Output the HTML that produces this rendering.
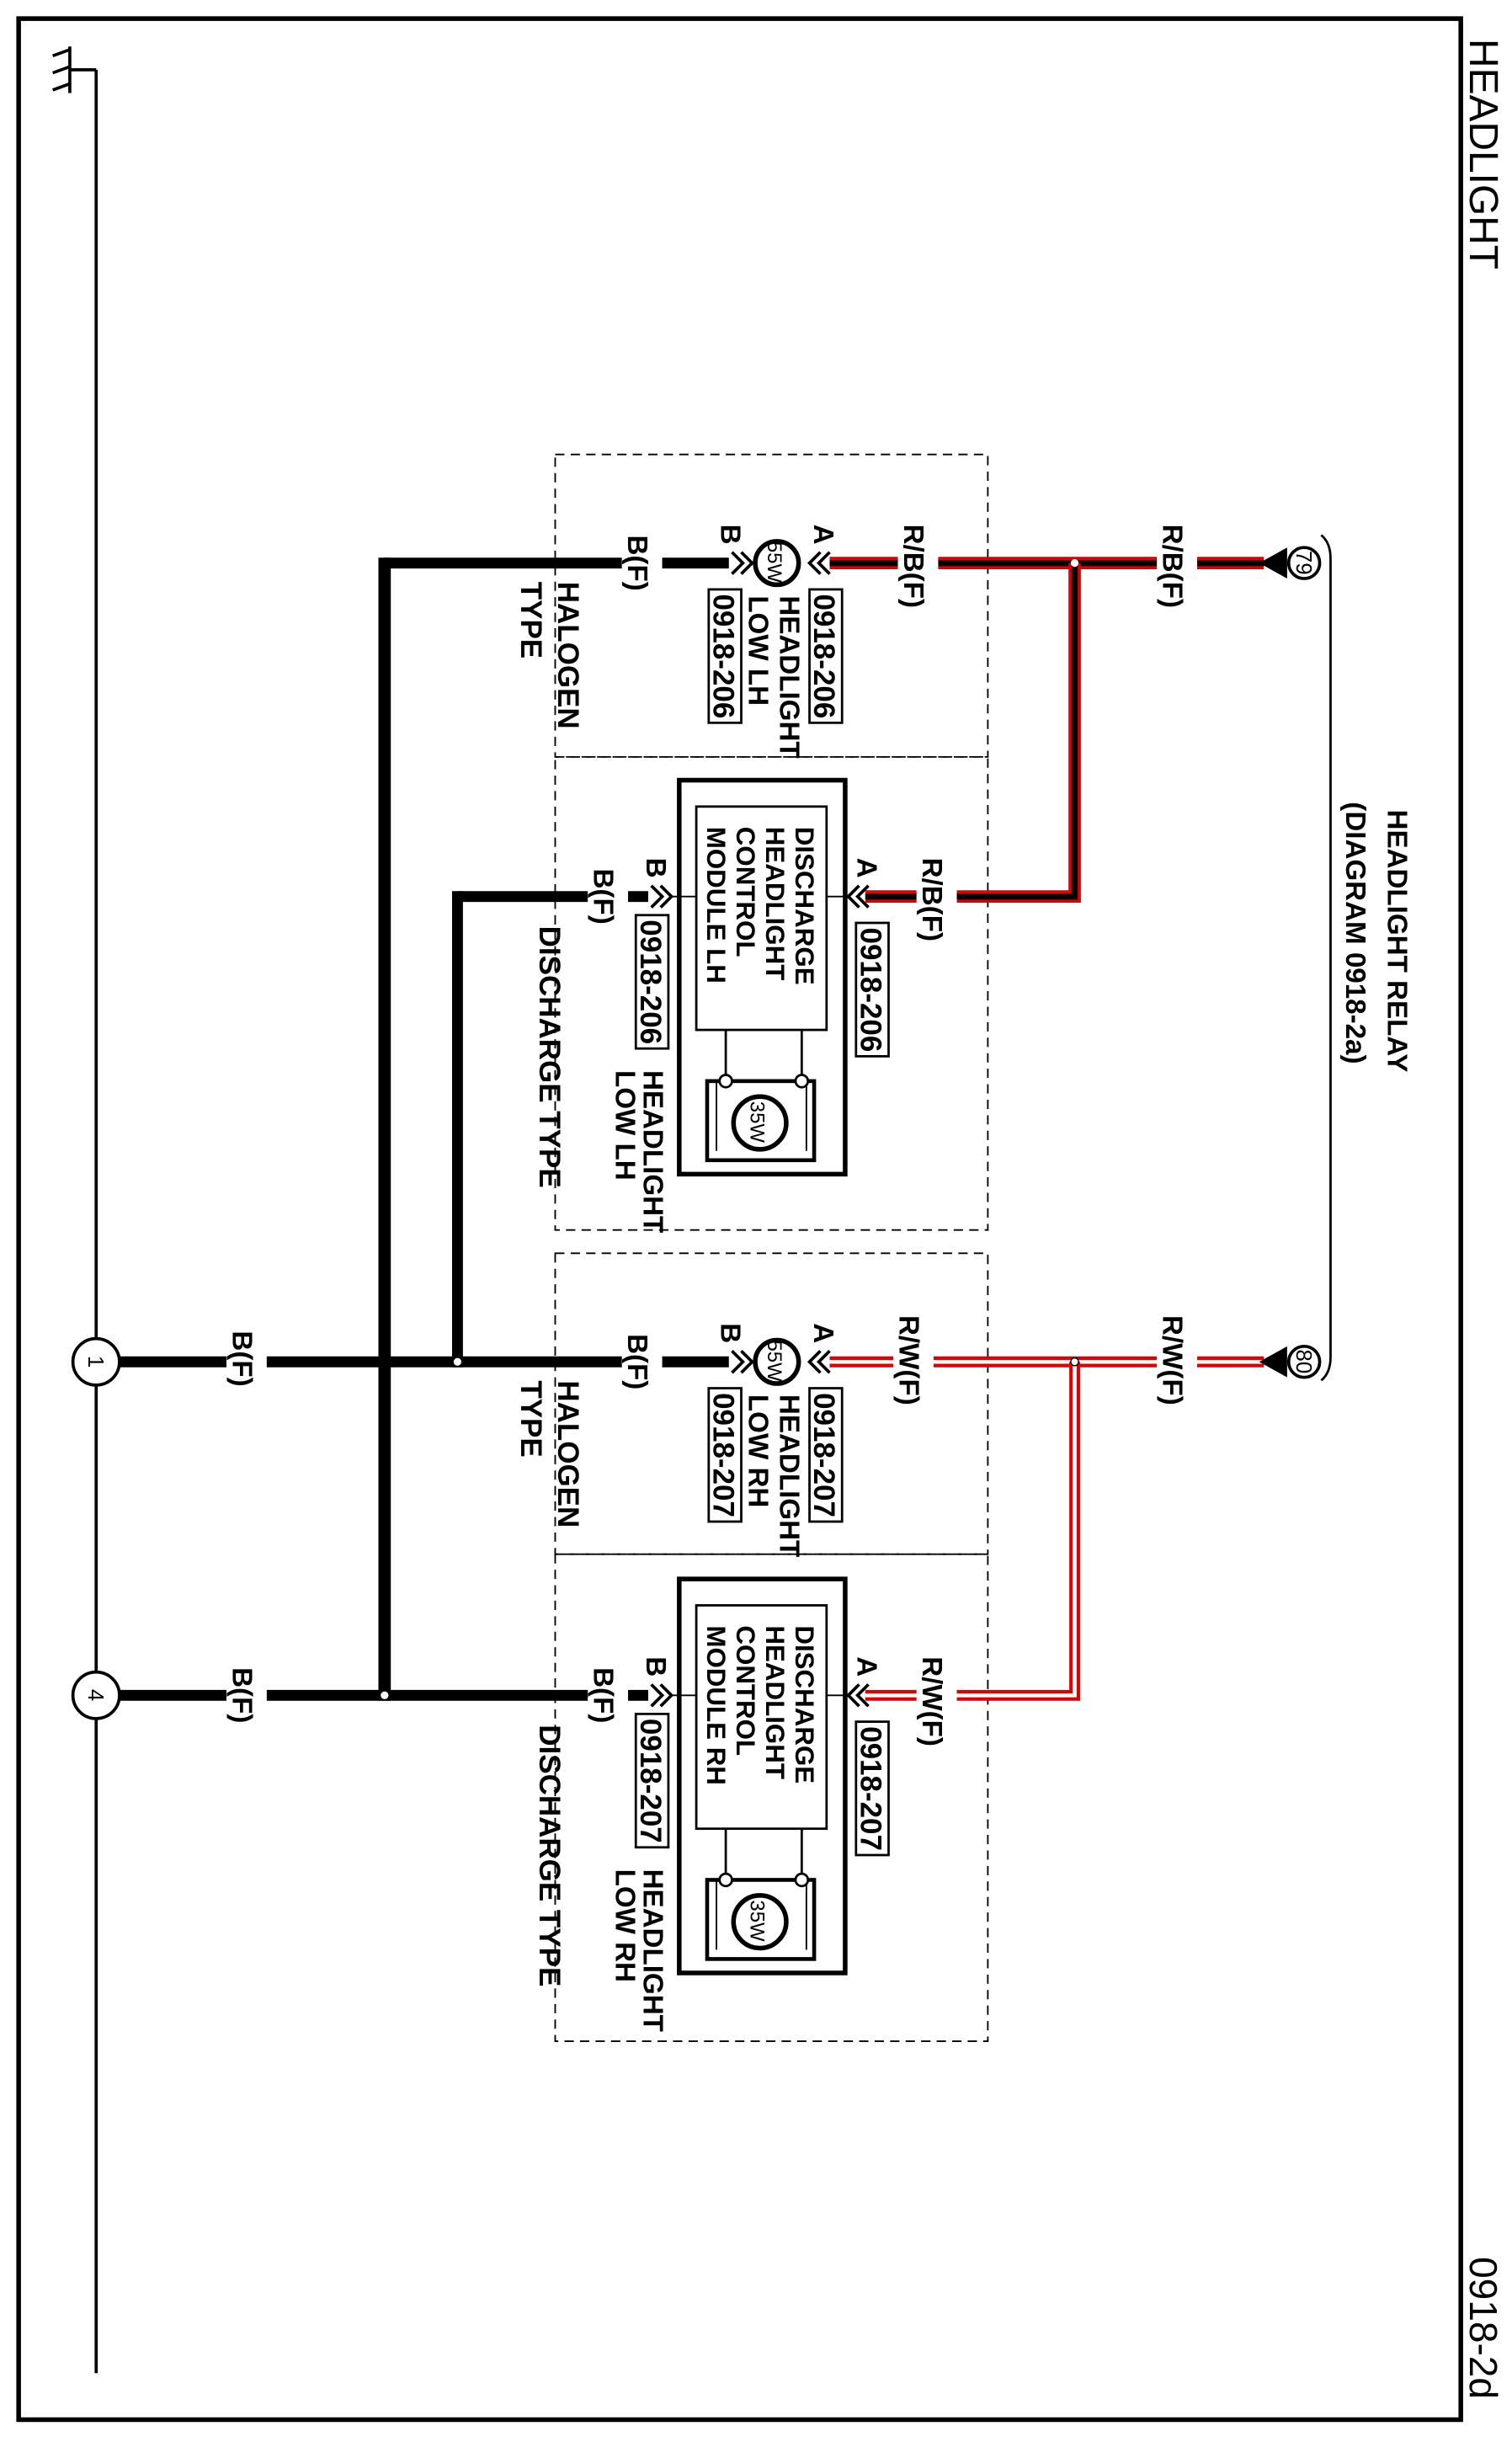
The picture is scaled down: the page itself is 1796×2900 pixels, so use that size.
<!DOCTYPE html>
<html><head><meta charset="utf-8"><style>
html,body{margin:0;padding:0;background:#fff;}
svg{display:block;}
text{font-family:"Liberation Sans",sans-serif;fill:#000;}
.b{font-weight:bold;}
</style></head><body>
<svg width="1796" height="2900" viewBox="0 0 975 1574.4" xmlns="http://www.w3.org/2000/svg">
<rect x="0" y="0" width="975" height="1574.4" fill="#fff"/>
<rect x="12" y="12" width="930" height="1548" fill="none" stroke="#000" stroke-width="3"/>
<text transform="translate(948,25) rotate(90)" font-size="26">HEADLIGHT</text>
<text transform="translate(948,1455) rotate(90)" font-size="25">0918-2d</text>
<!-- ground -->
<line x1="62" y1="45" x2="62" y2="1530" stroke="#000" stroke-width="2"/>
<line x1="45" y1="45" x2="62" y2="45" stroke="#000" stroke-width="2"/>
<line x1="45" y1="30" x2="45" y2="60" stroke="#000" stroke-width="2"/>
<line x1="45" y1="32" x2="34" y2="36" stroke="#000" stroke-width="2"/>
<line x1="45" y1="43" x2="34" y2="47" stroke="#000" stroke-width="2"/>
<line x1="45" y1="54" x2="34" y2="58" stroke="#000" stroke-width="2"/>
<!-- relay label + bracket -->
<text class="b" transform="translate(895,522) rotate(90)" font-size="18">HEADLIGHT RELAY</text>
<text class="b" transform="translate(868,517) rotate(90)" font-size="18">(DIAGRAM 0918-2a)</text>
<path d="M852 345 Q858 350 858 360 V875 Q858 885 852 890" fill="none" stroke="#000" stroke-width="1.5"/>
<!-- dashed boxes -->
<g fill="none" stroke="#000" stroke-width="1" stroke-dasharray="6,4">
<rect x="358" y="293" width="279" height="195"/><rect x="358" y="488" width="279" height="305"/>
<rect x="358" y="808" width="279" height="194"/><rect x="358" y="1002" width="279" height="314"/>
</g>
<!-- black ground wires -->
<g stroke="#000" fill="none">
<line x1="248" y1="363" x2="470" y2="363" stroke-width="7"/>
<line x1="295" y1="578" x2="418" y2="578" stroke-width="7"/>
<line x1="76" y1="878" x2="470" y2="878" stroke-width="7"/>
<line x1="76" y1="1093" x2="418" y2="1093" stroke-width="7"/>
<line x1="248" y1="359.5" x2="248" y2="1096.5" stroke-width="8"/>
<line x1="295" y1="574.5" x2="295" y2="881.5" stroke-width="7"/>
</g>
<circle cx="295" cy="878" r="2.5" fill="#fff"/><circle cx="248" cy="1093" r="2.5" fill="#fff"/>
<!-- R/B wires -->
<g fill="none" stroke-linejoin="miter">
<line x1="535" y1="363" x2="815" y2="363" stroke="#e00000" stroke-width="8"/>
<line x1="535" y1="363" x2="815" y2="363" stroke="#000" stroke-width="4"/>
<path d="M558 578 H693 V363" stroke="#e00000" stroke-width="8"/>
<path d="M558 578 H693 V363" stroke="#000" stroke-width="4"/>
<line x1="535" y1="878" x2="815" y2="878" stroke="#e00000" stroke-width="7"/>
<line x1="535" y1="878" x2="815" y2="878" stroke="#fff" stroke-width="2.5"/>
<path d="M558 1093 H693 V878" stroke="#e00000" stroke-width="7"/>
<path d="M558 1093 H693 V878" stroke="#fff" stroke-width="2.5"/>
</g>
<circle cx="693" cy="363" r="2.5" fill="#fff"/><circle cx="693" cy="878" r="2.5" fill="#fff" stroke="#000" stroke-width="0.8"/>
<!-- label gaps -->
<g fill="#fff">
<rect x="579" y="352" width="26" height="22"/><rect x="746" y="352" width="26" height="22"/>
<rect x="591" y="567" width="26" height="22"/>
<rect x="401" y="352" width="26" height="22"/><rect x="379" y="567" width="26" height="22"/>
<rect x="576" y="867" width="26" height="22"/><rect x="746" y="867" width="26" height="22"/>
<rect x="591" y="1082" width="26" height="22"/>
<rect x="401" y="867" width="26" height="22"/><rect x="379" y="1082" width="26" height="22"/>
<rect x="146" y="867" width="26" height="22"/><rect x="146" y="1082" width="26" height="22"/>
</g>
<!-- wire labels -->
<g class="b" font-size="18">
<text class="b" transform="translate(583,338) rotate(90)">R/B(F)</text>
<text class="b" transform="translate(750,338) rotate(90)">R/B(F)</text>
<text class="b" transform="translate(595,553) rotate(90)">R/B(F)</text>
<text class="b" transform="translate(405,345) rotate(90)">B(F)</text>
<text class="b" transform="translate(383,560) rotate(90)">B(F)</text>
<text class="b" transform="translate(580,848) rotate(90)">R/W(F)</text>
<text class="b" transform="translate(750,848) rotate(90)">R/W(F)</text>
<text class="b" transform="translate(595,1068) rotate(90)">R/W(F)</text>
<text class="b" transform="translate(405,860) rotate(90)">B(F)</text>
<text class="b" transform="translate(383,1075) rotate(90)">B(F)</text>
<text class="b" transform="translate(150,858) rotate(90)">B(F)</text>
<text class="b" transform="translate(150,1075) rotate(90)">B(F)</text>
</g>
<!-- junction circles -->
<circle cx="62" cy="878" r="15" fill="#fff" stroke="#000" stroke-width="2"/>
<text transform="translate(57,874) rotate(90)" font-size="14">1</text>
<circle cx="62" cy="1093" r="15" fill="#fff" stroke="#000" stroke-width="2"/>
<text transform="translate(57,1089) rotate(90)" font-size="14">4</text>
<!-- relay terminals -->
<polygon points="812,363 830,353 830,373" fill="#000"/>
<circle cx="841" cy="363" r="10" fill="#fff" stroke="#000" stroke-width="2"/>
<text transform="translate(836,355) rotate(90)" font-size="14">79</text>
<polygon points="812,878 830,868 830,888" fill="#000"/>
<circle cx="841" cy="878" r="10" fill="#fff" stroke="#000" stroke-width="2"/>
<text transform="translate(836,870) rotate(90)" font-size="14">80</text>

<!-- LH/RH groups -->
<g id="lh">
<!-- halogen -->
<g fill="none" stroke="#000" stroke-width="2">
<polyline points="472,356 479,363 472,370"/><polyline points="478,356 485,363 478,370"/>
<polyline points="529,356 522,363 529,370"/><polyline points="535,356 528,363 535,370"/>
</g>
<circle cx="501" cy="363" r="14" fill="#fff" stroke="#000" stroke-width="3"/>
<!-- discharge module -->
<g fill="none" stroke="#000" stroke-width="2">
<polyline points="420,571 427,578 420,585"/><polyline points="426,571 433,578 426,585"/>
<polyline points="554,571 547,578 554,585"/><polyline points="560,571 553,578 560,585"/>
</g>
<line x1="433" y1="578" x2="449" y2="578" stroke="#000" stroke-width="1"/>
<line x1="533" y1="578" x2="547" y2="578" stroke="#000" stroke-width="1"/>
<rect x="438" y="503" width="107" height="254" fill="none" stroke="#000" stroke-width="3"/>
<rect x="449" y="520" width="84" height="144" fill="none" stroke="#000" stroke-width="1.5"/>
<line x1="468" y1="664" x2="468" y2="697" stroke="#000" stroke-width="1.5"/>
<line x1="517" y1="664" x2="517" y2="697" stroke="#000" stroke-width="1.5"/>
<rect x="456" y="697" width="69" height="51" fill="none" stroke="#000" stroke-width="2.5"/>
<line x1="462" y1="697" x2="462" y2="742" stroke="#000" stroke-width="1"/>
<line x1="520" y1="697" x2="520" y2="742" stroke="#000" stroke-width="1"/>
<circle cx="468" cy="697" r="4" fill="#fff" stroke="#000" stroke-width="1.5"/>
<circle cx="517" cy="697" r="4" fill="#fff" stroke="#000" stroke-width="1.5"/>
<circle cx="490" cy="724" r="17" fill="#fff" stroke="#000" stroke-width="3"/>
<text transform="translate(484,710) rotate(90)" font-size="13">35W</text>
<!-- code boxes -->
<g fill="#fff" stroke="#000" stroke-width="1.5">
<rect x="522" y="380" width="21" height="86"/><rect x="457" y="380" width="21" height="86"/>
<rect x="552" y="595" width="21" height="86"/><rect x="410" y="590" width="21" height="86"/>
</g>
<g font-size="18">
<text class="b" transform="translate(525,338) rotate(90)">A</text>
<text class="b" transform="translate(465,338) rotate(90)">B</text>
<text class="b" transform="translate(553,553) rotate(90)">A</text>
<text class="b" transform="translate(417,553) rotate(90)">B</text>
<text class="b" transform="translate(360,375) rotate(90)" font-size="19">HALOGEN</text>
<text class="b" transform="translate(336,375) rotate(90)" font-size="19">TYPE</text>
<text class="b" transform="translate(348,597) rotate(90)" font-size="19">DISCHARGE TYPE</text>
<text class="b" transform="translate(513,533) rotate(90)" font-size="17">DISCHARGE</text>
<text class="b" transform="translate(494,533) rotate(90)" font-size="17">HEADLIGHT</text>
<text class="b" transform="translate(475,533) rotate(90)" font-size="17">CONTROL</text>
</g>
</g>
<use href="#lh" transform="translate(0,515)"/>

<!-- text that differs LH / RH -->
<g font-size="18">
<text transform="translate(495,349) rotate(90)" font-size="13">55W</text>
<text transform="translate(495,864) rotate(90)" font-size="13">55W</text>
<text class="b" transform="translate(503,384) rotate(90)">HEADLIGHT</text>
<text class="b" transform="translate(483,384) rotate(90)">LOW LH</text>
<text class="b" transform="translate(503,899) rotate(90)">HEADLIGHT</text>
<text class="b" transform="translate(483,899) rotate(90)">LOW RH</text>
<text class="b" transform="translate(456,533) rotate(90)" font-size="17">MODULE LH</text>
<text class="b" transform="translate(456,1048) rotate(90)" font-size="17">MODULE RH</text>
<text class="b" transform="translate(415,690) rotate(90)">HEADLIGHT</text>
<text class="b" transform="translate(397,690) rotate(90)">LOW LH</text>
<text class="b" transform="translate(415,1205) rotate(90)">HEADLIGHT</text>
<text class="b" transform="translate(397,1205) rotate(90)">LOW RH</text>
<g font-size="19">
<text class="b" transform="translate(525,383) rotate(90)">0918-206</text>
<text class="b" transform="translate(460,383) rotate(90)">0918-206</text>
<text class="b" transform="translate(555,598) rotate(90)">0918-206</text>
<text class="b" transform="translate(413,593) rotate(90)">0918-206</text>
<text class="b" transform="translate(525,898) rotate(90)">0918-207</text>
<text class="b" transform="translate(460,898) rotate(90)">0918-207</text>
<text class="b" transform="translate(555,1113) rotate(90)">0918-207</text>
<text class="b" transform="translate(413,1108) rotate(90)">0918-207</text>
</g>
</g>
</svg>
</body></html>
